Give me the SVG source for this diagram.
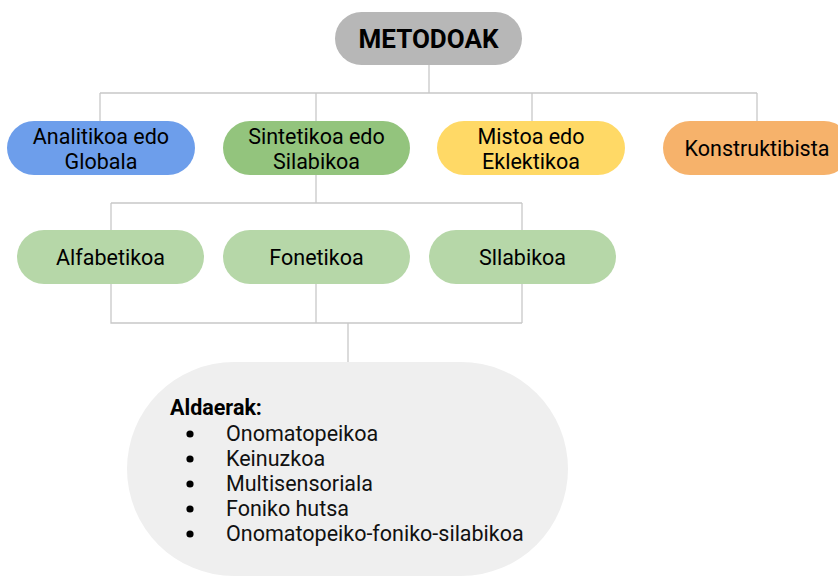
<svg xmlns="http://www.w3.org/2000/svg" width="838" height="576" viewBox="0 0 838 576">
<style>
text{font-family:Roboto,"Liberation Sans",sans-serif;fill:#000;}
.n{font-size:21.5px;text-anchor:middle;}
.c{fill:none;stroke:#c8c8c8;stroke-width:1.3;}
.i{font-size:21.5px;fill:#111;}
</style>
<rect width="838" height="576" fill="#fff"/>
<g id="connectors" class="c">
<path d="M429 65V93M100 93H757M100 93V121M316 93V121M532 93V121M757 93V121"/>
<path d="M316 175V203M111 203H522M111 203V230M522 203V230"/>
<path d="M111 284V323H522M316 284V323M522 284V323M348 323V362"/>
</g>
<g id="metodoak">
<rect x="335" y="12" width="187" height="53" rx="26.5" fill="#b7b7b7"/>
<text x="428.5" y="47.5" font-size="26" font-weight="bold" text-anchor="middle">METODOAK</text>
</g>
<g id="analitikoa">
<rect x="7" y="121" width="188" height="54" rx="27" fill="#6d9eeb"/>
<text class="n" x="101" y="143.5">Analitikoa edo</text>
<text class="n" x="101" y="168.5">Globala</text>
</g>
<g id="sintetikoa">
<rect x="223" y="121" width="187" height="54" rx="27" fill="#93c47d"/>
<text class="n" x="316.5" y="143.5">Sintetikoa edo</text>
<text class="n" x="316.5" y="168.5">Silabikoa</text>
</g>
<g id="mistoa">
<rect x="437" y="121" width="188" height="54" rx="27" fill="#ffd966"/>
<text class="n" x="531" y="143.5">Mistoa edo</text>
<text class="n" x="531" y="168.5">Eklektikoa</text>
</g>
<g id="konstruktibista">
<rect x="663" y="121" width="188" height="54" rx="27" fill="#f6b26b"/>
<text class="n" x="757" y="155.5">Konstruktibista</text>
</g>
<g id="alfabetikoa">
<rect x="17" y="230" width="187" height="54" rx="27" fill="#b6d7a8"/>
<text class="n" x="110.5" y="264.5">Alfabetikoa</text>
</g>
<g id="fonetikoa">
<rect x="223" y="230" width="187" height="54" rx="27" fill="#b6d7a8"/>
<text class="n" x="316.5" y="264.5">Fonetikoa</text>
</g>
<g id="sllabikoa">
<rect x="429" y="230" width="187" height="54" rx="27" fill="#b6d7a8"/>
<text class="n" x="522.5" y="264.5">Sllabikoa</text>
</g>
<g id="aldaerak">
<rect x="127" y="362" width="441" height="214" rx="107" fill="#efefef"/>
<text x="170" y="415" font-size="21.5" font-weight="bold">Aldaerak:</text>
<g fill="#000">
<circle cx="190" cy="434" r="3.6"/>
<circle cx="190" cy="459" r="3.6"/>
<circle cx="190" cy="484" r="3.6"/>
<circle cx="190" cy="509" r="3.6"/>
<circle cx="190" cy="534" r="3.6"/>
</g>
<text class="i" x="226" y="440.5">Onomatopeikoa</text>
<text class="i" x="226" y="465.5">Keinuzkoa</text>
<text class="i" x="226" y="491">Multisensoriala</text>
<text class="i" x="226" y="516">Foniko hutsa</text>
<text class="i" x="226" y="541">Onomatopeiko-foniko-silabikoa</text>
</g>
</svg>
